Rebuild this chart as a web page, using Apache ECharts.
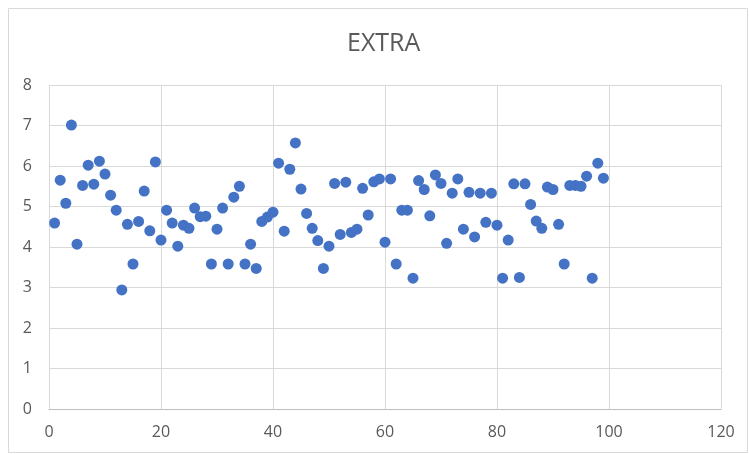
<!DOCTYPE html>
<html>
<head>
<meta charset="utf-8">
<script src="https://cdn.jsdelivr.net/npm/echarts@6/dist/echarts.min.js"></script>
<style>
  html, body { margin: 0; padding: 0; background: #fff; }
  #chart { width: 749px; height: 454px; }
</style>
</head>
<body>
<div id="chart"></div>
<script>
// index 1..99 and the EXTRA value
const xValues = [];
for (let i = 1; i <= 99; i++) xValues.push(i);

const extraValues = [
  4.59, 5.65, 5.08, 7.01, 4.07, 5.52, 6.02, 5.55, 6.12, 5.80,
  5.28, 4.91, 2.94, 4.56, 3.58, 4.63, 5.38, 4.40, 6.10, 4.17,
  4.91, 4.59, 4.02, 4.54, 4.46, 4.96, 4.75, 4.76, 3.58, 4.44,
  4.96, 3.58, 5.23, 5.50, 3.58, 4.07, 3.47, 4.63, 4.74, 4.86,
  6.07, 4.39, 5.92, 6.57, 5.43, 4.83, 4.46, 4.16, 3.47, 4.02,
  5.57, 4.31, 5.60, 4.36, 4.44, 5.45, 4.79, 5.61, 5.68, 4.12,
  5.68, 3.58, 4.91, 4.91, 3.23, 5.64, 5.42, 4.77, 5.78, 5.57,
  4.09, 5.33, 5.68, 4.44, 5.35, 4.25, 5.33, 4.61, 5.33, 4.54,
  3.23, 4.17, 5.56, 3.25, 5.56, 5.05, 4.64, 4.46, 5.48, 5.42,
  4.56, 3.58, 5.52, 5.52, 5.50, 5.75, 3.23, 6.07, 5.70
];

const points = xValues.map((x, i) => [x, extraValues[i]]);

const labelFont = {color: "#595959", fontSize: 16, fontFamily: "Open Sans"};

const chart = echarts.init(document.getElementById("chart"), null, {renderer: "canvas"});
chart.setOption({
  animation: false,
  backgroundColor: "#fff",
  title: {
    text: "EXTRA",
    left: 342,
    top: 26,
    textStyle: {color: "#595959", fontSize: 25, fontWeight: "normal", fontFamily: "Open Sans"},
  },
  graphic: [
    {
      type: "rect",
      shape: {x: 8.5, y: 8.5, width: 739, height: 444},
      style: {fill: "none", stroke: "#d9d9d9", lineWidth: 1},
      silent: true,
    },
  ],
  grid: {left: 49, right: 28, top: 85, bottom: 45, containLabel: false},
  xAxis: {
    type: "value",
    min: 0,
    max: 120,
    interval: 20,
    axisLine: {show: true, lineStyle: {color: "#bfbfbf", width: 1}},
    axisTick: {show: false},
    axisLabel: {...labelFont, margin: 15},
    splitLine: {show: true, lineStyle: {color: "#d9d9d9", width: 1}},
  },
  yAxis: {
    type: "value",
    min: 0,
    max: 8,
    interval: 1,
    axisLine: {show: false},
    axisTick: {show: false},
    axisLabel: {...labelFont, margin: 17},
    splitLine: {show: true, lineStyle: {color: "#d9d9d9", width: 1}},
  },
  series: [
    {
      name: "EXTRA",
      type: "scatter",
      data: points,
      symbol: "circle",
      symbolSize: 11,
      itemStyle: {color: "#4472c4", opacity: 1},
    },
  ],
});
</script>
</body>
</html>
